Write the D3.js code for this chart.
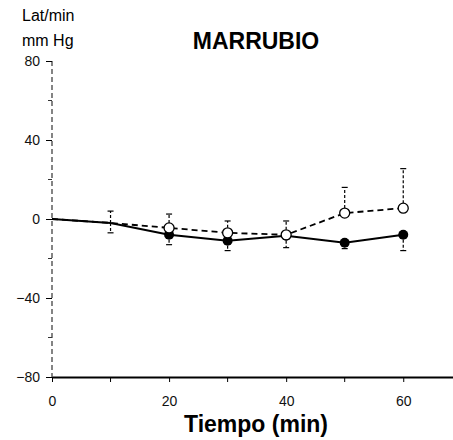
<!DOCTYPE html>
<html>
<head>
<meta charset="utf-8">
<script src="https://cdn.jsdelivr.net/npm/d3@7"></script>
<style>
  body { margin: 0; background: #fff; }
  svg { font-family: "Liberation Sans", Arial, sans-serif; }
</style>
</head>
<body>
<div id="viz"></div>
<script>
// tiempo (min)
var times = [0, 10, 20, 30, 40, 50, 60];
// serie abierta (linea discontinua) y su error (hacia arriba)
var openVals = [0, -2, -4.5, -7, -8, 3, 5.5];
var openErr = [0, 6, 7, 6, 7, 13, 20];
// serie llena (linea continua) y su error (hacia abajo)
var fillVals = [0, -2, -8, -11, -8.5, -12, -8];
var fillErr = [0, 5, 5, 5, 6, 3, 8];
var yTicks = [80, 40, 0, -40, -80];
var yMinor = [60, 20, -20, -60];
var xTicks = [0, 20, 40, 60];
var xMinor = [10, 30, 50];

var width = 453, height = 440;

var svg = d3.select('#viz').append('svg')
  .attr('width', width)
  .attr('height', height);

var x = d3.scaleLinear().domain([0, 68.5]).range([52, 453]);
var y = d3.scaleLinear().domain([-80, 80]).range([377, 61]);

// eje y (punteado, como en el original escaneado)
svg.append('line')
  .attr('x1', x(0)).attr('x2', x(0))
  .attr('y1', y(80)).attr('y2', y(-80))
  .attr('stroke', '#333')
  .attr('stroke-width', 1.2)
  .attr('stroke-dasharray', '5,3');

var yAxis = d3.axisLeft(y).tickValues(yTicks).tickSize(6).tickPadding(6)
  .tickFormat(d3.format('d'));
var yG = svg.append('g')
  .attr('transform', 'translate(' + x(0) + ',0)')
  .call(yAxis);
yG.select('.domain').remove();
yG.selectAll('text').style('font-size', '14px').attr('fill', '#111');

svg.selectAll('.yminor').data(yMinor).enter().append('line')
  .attr('x1', x(0) - 4).attr('x2', x(0))
  .attr('y1', function(d) { return y(d); })
  .attr('y2', function(d) { return y(d); })
  .attr('stroke', '#333');

// eje x
var xAxis = d3.axisBottom(x).tickValues(xTicks).tickSize(5).tickPadding(14)
  .tickSizeOuter(0);
var xG = svg.append('g')
  .attr('transform', 'translate(0,' + y(-80) + ')')
  .call(xAxis);
xG.select('.domain').attr('stroke-width', 1.8);
xG.selectAll('text').style('font-size', '14px').attr('fill', '#111');

svg.selectAll('.xminor').data(xMinor).enter().append('line')
  .attr('x1', function(d) { return x(d); })
  .attr('x2', function(d) { return x(d); })
  .attr('y1', y(-80)).attr('y2', y(-80) + 5)
  .attr('stroke', '#000');

// barras de error
function errBars(vals, errs, dir) {
  var g = svg.append('g');
  times.forEach(function(t, i) {
    if (!errs[i]) return;
    var y0 = y(vals[i]), y1 = y(vals[i] + dir * errs[i]);
    g.append('line')
      .attr('x1', x(t)).attr('x2', x(t))
      .attr('y1', y0).attr('y2', y1)
      .attr('stroke', '#000').attr('stroke-width', 1.2)
      .attr('stroke-dasharray', '3,2');
    g.append('line')
      .attr('x1', x(t) - 3).attr('x2', x(t) + 3)
      .attr('y1', y1).attr('y2', y1)
      .attr('stroke', '#000').attr('stroke-width', 1.2);
  });
}
errBars(openVals, openErr, 1);
errBars(fillVals, fillErr, -1);

var line = d3.line()
  .x(function(d) { return x(d[0]); })
  .y(function(d) { return y(d[1]); });

svg.append('path')
  .datum(d3.zip(times, fillVals))
  .attr('d', line)
  .attr('fill', 'none')
  .attr('stroke', '#000')
  .attr('stroke-width', 2);

svg.append('path')
  .datum(d3.zip(times, openVals))
  .attr('d', line)
  .attr('fill', 'none')
  .attr('stroke', '#000')
  .attr('stroke-width', 1.8)
  .attr('stroke-dasharray', '6,4');

// marcadores (desde 20 min)
svg.selectAll('.pf').data(d3.zip(times, fillVals).filter(function(d) { return d[0] >= 20; }))
  .enter().append('circle')
  .attr('cx', function(d) { return x(d[0]); })
  .attr('cy', function(d) { return y(d[1]); })
  .attr('r', 5)
  .attr('fill', '#000');

svg.selectAll('.po').data(d3.zip(times, openVals).filter(function(d) { return d[0] >= 20; }))
  .enter().append('circle')
  .attr('cx', function(d) { return x(d[0]); })
  .attr('cy', function(d) { return y(d[1]); })
  .attr('r', 5)
  .attr('fill', '#fff')
  .attr('stroke', '#000')
  .attr('stroke-width', 1.3);

// textos
svg.append('text').attr('x', 22).attr('y', 21)
  .style('font-size', '16px').text('Lat/min');
svg.append('text').attr('x', 22).attr('y', 46)
  .style('font-size', '16px').text('mm Hg');
svg.append('text').attr('x', 256).attr('y', 49)
  .attr('text-anchor', 'middle')
  .style('font-size', '23px').style('font-weight', 'bold')
  .text('MARRUBIO');
svg.append('text').attr('x', 256).attr('y', 432)
  .attr('text-anchor', 'middle')
  .style('font-size', '23px').style('font-weight', 'bold')
  .text('Tiempo (min)');
</script>
</body>
</html>
